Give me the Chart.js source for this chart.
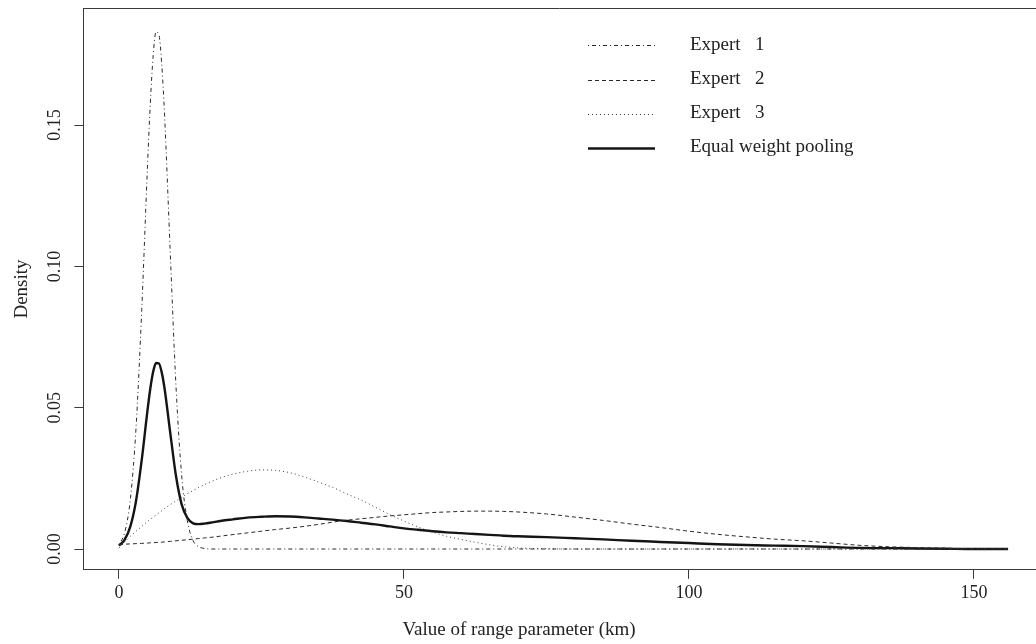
<!DOCTYPE html>
<html>
<head>
<meta charset="utf-8">
<script src="https://cdn.jsdelivr.net/npm/chart.js@4.4.1/dist/chart.umd.min.js"></script>
<style>
  html, body { margin: 0; padding: 0; background: #ffffff; overflow: hidden; }
  #wrap { width: 1036px; height: 644px; position: relative; }
</style>
</head>
<body>
<div id="wrap"><canvas id="c" width="1036" height="644"></canvas></div>
<script>
// Range parameter grid (km)
const rangeKm = [0, 1, 2, 3, 4, 5, 5.5, 6, 6.5, 7, 7.5, 8, 9, 10, 11, 12, 13, 14, 15, 16,
  18, 20, 22.5, 25, 27.5, 30, 32.5, 35, 37.5, 40, 42.5, 45, 47.5, 50, 52.5, 55, 57.5, 60,
  62.5, 65, 67.5, 70, 75, 80, 85, 90, 95, 100, 105, 110, 115, 120, 125, 130, 135, 140,
  145, 150, 156];

// Elicited densities for each expert
const expert1 = [0.0016, 0.0058, 0.0176, 0.0430, 0.0848, 0.1352, 0.1577, 0.1745, 0.1830, 0.1820,
  0.1717, 0.1536, 0.1048, 0.0578, 0.0260, 0.0100, 0.0030, 0.0008, 0.0002, 0,
  0, 0, 0, 0, 0, 0, 0, 0, 0, 0, 0, 0, 0, 0, 0, 0, 0, 0,
  0, 0, 0, 0, 0, 0, 0, 0, 0, 0, 0, 0, 0, 0, 0, 0, 0, 0,
  0, 0, 0];
const expert2 = [0.0016, 0.0017, 0.0018, 0.0019, 0.0020, 0.0021, 0.0022, 0.0022, 0.0023, 0.0024,
  0.0024, 0.0025, 0.0027, 0.0029, 0.0031, 0.0033, 0.0035, 0.0037, 0.0039, 0.0041,
  0.0046, 0.0051, 0.0057, 0.0063, 0.0069, 0.0074, 0.0080, 0.0087, 0.0095, 0.0102, 0.0107,
  0.0112, 0.0117, 0.0121, 0.0125, 0.0129, 0.0131, 0.0133, 0.0134, 0.0134, 0.0133, 0.0131,
  0.0124, 0.0113, 0.0101, 0.0088, 0.0076, 0.0063, 0.0052, 0.0043, 0.0035, 0.0029, 0.0021,
  0.0013, 0.0008, 0.0005, 0.0003, 0.0001, 0.0000];
const expert3 = [0.0003, 0.0024, 0.0045, 0.0063, 0.0080, 0.0097, 0.0105, 0.0113, 0.0120, 0.0128,
  0.0135, 0.0143, 0.0157, 0.0170, 0.0183, 0.0196, 0.0207, 0.0218, 0.0228, 0.0237,
  0.0253, 0.0265, 0.0275, 0.0280, 0.0278, 0.0270, 0.0255, 0.0237, 0.0218, 0.0195, 0.0173,
  0.0148, 0.0122, 0.0099, 0.0078, 0.0060, 0.0045, 0.0034, 0.0024, 0.0015, 0.0008, 0.0004,
  0.0001, 0, 0, 0, 0, 0, 0, 0, 0, 0, 0,
  0, 0, 0, 0, 0, 0];
// Linear opinion pool with equal weights
const pooled = [0.0012, 0.0033, 0.0080, 0.0171, 0.0316, 0.0490, 0.0568, 0.0627, 0.0658, 0.0657,
  0.0625, 0.0568, 0.0411, 0.0259, 0.0158, 0.0110, 0.0091, 0.0088, 0.0090, 0.0093,
  0.0100, 0.0105, 0.0111, 0.0114, 0.0116, 0.0115, 0.0112, 0.0108, 0.0104, 0.0099, 0.0093,
  0.0087, 0.0080, 0.0073, 0.0068, 0.0063, 0.0059, 0.0056, 0.0053, 0.0050, 0.0047, 0.0045,
  0.0042, 0.0038, 0.0034, 0.0029, 0.0025, 0.0021, 0.0017, 0.0014, 0.0012, 0.0010, 0.0007,
  0.0004, 0.0003, 0.0002, 0.0001, 0.0000, 0.0000];

const seriesNames = ['Expert   1', 'Expert   2', 'Expert   3', 'Equal weight pooling'];
const xTicks = [0, 50, 100, 150];
const yTicks = [0, 0.05, 0.10, 0.15];
const yTickLabels = ['0.00', '0.05', '0.10', '0.15'];
const xTitle = 'Value of range parameter (km)';
const yTitle = 'Density';

const FONT = '"Liberation Serif", "Times New Roman", serif';
const INK = '#222222';
const AXIS = '#3a3a3a';

const toPoints = ys => rangeKm.map((x, i) => ({ x, y: ys[i] }));

const styles = [
  { color: '#2a2a2a', width: 1, dash: [1, 3, 4, 3] },   // dot-dash
  { color: '#2a2a2a', width: 1, dash: [4, 3] },         // dashed
  { color: '#3a3a3a', width: 1, dash: [1, 3] },         // dotted
  { color: '#141414', width: 2.4, dash: [] }            // solid
];

const seriesData = [expert1, expert2, expert3, pooled];

const datasets = seriesData.map((ys, i) => ({
  label: seriesNames[i],
  data: toPoints(ys),
  borderColor: styles[i].color,
  borderWidth: styles[i].width,
  borderDash: styles[i].dash,
  borderCapStyle: 'butt',
  pointRadius: 0,
  fill: false,
  cubicInterpolationMode: 'monotone'
}));

// Scales keep a fixed footprint so the plot region stays put
const fixSize = (w, h) => s => {
  if (w !== null) s.width = w;
  if (h !== null) s.height = h;
  s.paddingTop = 0; s.paddingBottom = 0; s.paddingLeft = 0; s.paddingRight = 0;
};

// Top edge of the frame, axis titles and the legend key
const notes = {
  id: 'notes',
  afterDraw(chart) {
    const { ctx, chartArea: a } = chart;
    ctx.save();
    ctx.strokeStyle = AXIS;
    ctx.lineWidth = 1;
    ctx.beginPath();
    ctx.moveTo(a.left, Math.round(a.top) + 0.5);
    ctx.lineTo(a.right, Math.round(a.top) + 0.5);
    ctx.stroke();

    ctx.fillStyle = INK;
    ctx.font = '19px ' + FONT;
    ctx.textAlign = 'center';
    ctx.textBaseline = 'middle';
    ctx.fillText(xTitle, 519, 630);

    ctx.save();
    ctx.translate(22, 289);
    ctx.rotate(-Math.PI / 2);
    ctx.fillText(yTitle, 0, 0);
    ctx.restore();

    // legend
    const rowY = [45, 79.5, 113.5, 147.5];
    chart.data.datasets.forEach((ds, i) => {
      const y = Math.round(rowY[i]) + (ds.borderWidth % 2 ? 0.5 : 0);
      ctx.strokeStyle = ds.borderColor;
      ctx.lineWidth = ds.borderWidth;
      ctx.setLineDash(ds.borderDash);
      ctx.beginPath();
      ctx.moveTo(588, y);
      ctx.lineTo(655, y);
      ctx.stroke();
      ctx.setLineDash([]);
      ctx.fillStyle = INK;
      ctx.textAlign = 'left';
      ctx.textBaseline = 'middle';
      ctx.fillText(ds.label, 690, rowY[i]);
    });
    ctx.restore();
  }
};

new Chart(document.getElementById('c'), {
  type: 'line',
  data: { datasets },
  plugins: [notes],
  options: {
    responsive: false,
    animation: false,
    devicePixelRatio: 1,
    layout: { autoPadding: false, padding: { top: 8.1, left: 0, right: 0, bottom: 0 } },
    plugins: { legend: { display: false }, tooltip: { enabled: false } },
    elements: { point: { radius: 0 }, line: { tension: 0 } },
    scales: {
      x: {
        type: 'linear',
        position: 'bottom',
        min: -6.24,
        max: 160.9,
        afterBuildTicks: s => { s.ticks = xTicks.map(v => ({ value: v })); },
        afterFit: fixSize(null, 74.2),
        grid: { display: true, drawOnChartArea: false, drawTicks: true, tickLength: 9, color: AXIS, lineWidth: 1 },
        border: { display: true, color: AXIS, width: 1 },
        ticks: {
          autoSkip: false, maxRotation: 0, padding: 4,
          color: INK, font: { family: FONT, size: 18 },
          callback: v => String(v)
        }
      },
      y: {
        type: 'linear',
        position: 'left',
        min: -0.00736,
        max: 0.1914,
        afterBuildTicks: s => { s.ticks = yTicks.map(v => ({ value: v })); },
        afterFit: fixSize(83.4, null),
        grid: { display: true, drawOnChartArea: false, drawTicks: true, tickLength: 9, color: AXIS, lineWidth: 1 },
        border: { display: true, color: AXIS, width: 1 },
        ticks: {
          autoSkip: false, minRotation: 90, maxRotation: 90, crossAlign: 'center', padding: 3,
          color: INK, font: { family: FONT, size: 18 },
          callback: (v, i) => yTickLabels[i]
        }
      }
    }
  }
});
</script>
</body>
</html>
